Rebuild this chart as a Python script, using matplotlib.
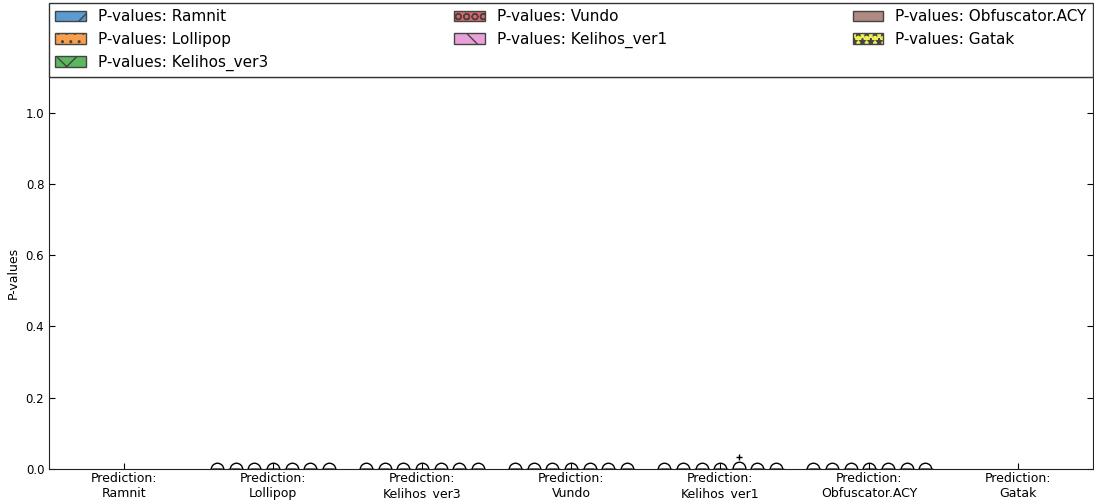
import numpy as np
import matplotlib
matplotlib.use('Agg')
from matplotlib import pyplot as plt
from matplotlib.patches import Patch

# classes / groups
classes = ['Ramnit', 'Lollipop', 'Kelihos_ver3', 'Vundo', 'Kelihos_ver1', 'Obfuscator.ACY', 'Gatak']
colors = ['#5b9bd0', '#f9a04f', '#5cb85c', '#e06666', '#eaa0d8', '#b08a82', '#eeee55']
hatches = ['/', '..', 'x', 'OO', '\\', '', '**']

# p-values per prediction group, one list per class (Ramnit and Gatak groups are empty)
zeros = [0.0, 0.0, 0.0, 0.0, 0.0, 0.0, 0.0, 0.0, 0.0, 0.0]
pv_ramnit = [[], [], [], [], [], [], []]
pv_lollipop = [zeros, zeros, zeros, zeros, zeros, zeros, zeros]
pv_kelihos3 = [zeros, zeros, zeros, zeros, zeros, zeros, zeros]
pv_vundo = [zeros, zeros, zeros, zeros, zeros, zeros, zeros]
pv_kelihos1 = [zeros, zeros, zeros, zeros, zeros + [0.033], zeros, zeros]
pv_obfus = [zeros, zeros, zeros, zeros, zeros, zeros, zeros]
pv_gatak = [[], [], [], [], [], [], []]
groups = [pv_ramnit, pv_lollipop, pv_kelihos3, pv_vundo, pv_kelihos1, pv_obfus, pv_gatak]

fig = plt.figure(figsize=(10.94, 5.0), dpi=100)
ax = fig.add_axes([0.045, 0.062, 0.954, 0.784])

for g, data in enumerate(groups):
    for k in range(len(classes)):
        vals = data[k]
        if len(vals) == 0:
            continue
        pos = g + 1 + (k - 3) / 8.0
        bp = ax.boxplot([vals], positions=[pos], widths=0.1, patch_artist=True,
                        showmeans=True,
                        meanprops=dict(marker='o', markerfacecolor='none',
                                       markeredgecolor='black', markersize=9),
                        flierprops=dict(marker='+', markeredgecolor='black',
                                        markersize=5),
                        medianprops=dict(color='black'))
        for b in bp['boxes']:
            b.set_facecolor(colors[k])
            b.set_hatch(hatches[k])

ax.set_xlim(0.5, 7.5)
ax.set_ylim(0, 1.1)
ax.set_xticks(range(1, 8))
ax.set_xticklabels(['Prediction:\n' + c for c in classes], fontsize=9)
ax.set_yticks([0.0, 0.2, 0.4, 0.6, 0.8, 1.0])
ax.set_yticklabels(['0.0', '0.2', '0.4', '0.6', '0.8', '1.0'], fontsize=8.5)
ax.tick_params(direction='in', right=True, top=False, length=4)
ax.tick_params(axis='x', pad=2)
ax.set_ylabel('P-values', fontsize=9)
for s in ax.spines.values():
    s.set_color('#222222')

handles = [Patch(facecolor=colors[k], edgecolor='#444444', hatch=hatches[k],
                 label='P-values: ' + classes[k]) for k in range(len(classes))]
leg = ax.legend(handles=handles, loc='lower left', bbox_to_anchor=(0, 1, 1, 0.2),
                mode='expand', ncol=3, borderaxespad=0, fontsize=11,
                fancybox=False, handlelength=2.0, framealpha=1)
leg.get_frame().set_edgecolor('#333333')

plt.savefig('out.png')
